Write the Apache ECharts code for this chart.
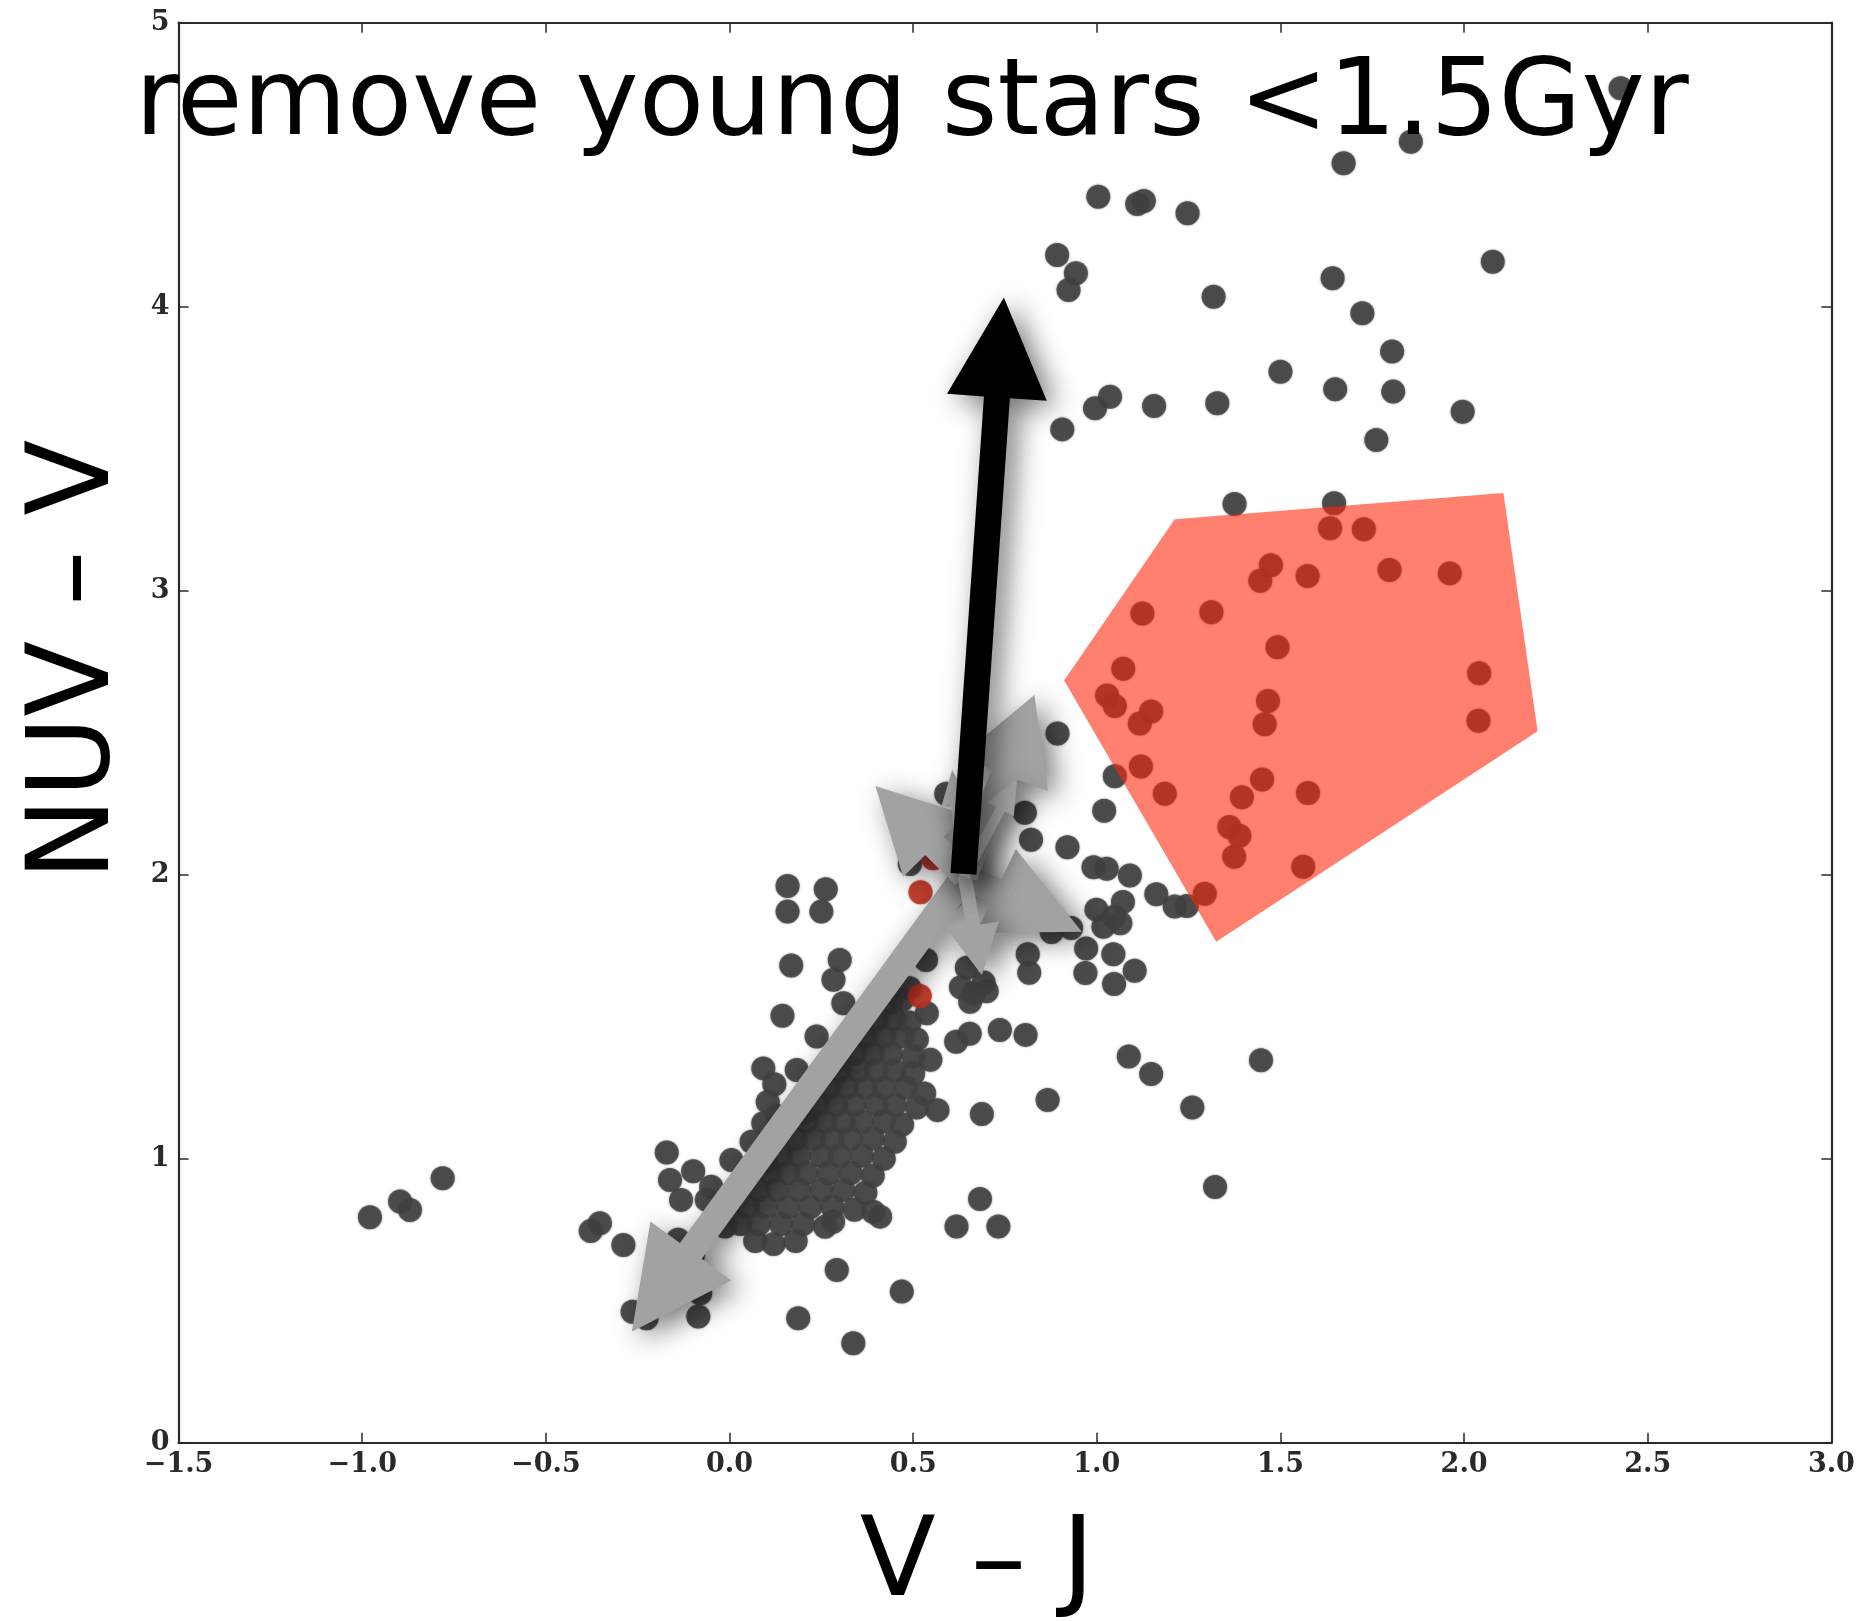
<!DOCTYPE html>
<html>
<head>
<meta charset="utf-8">
<script src="https://cdn.jsdelivr.net/npm/echarts@6/dist/echarts.min.js"></script>
<style>
  html, body { margin: 0; padding: 0; background: #ffffff; }
  #chart { width: 1867px; height: 1621px; }
</style>
</head>
<body>
<div id="chart"></div>
<script>
// Colour-colour diagram: NUV - V against V - J

const xTickLabels = ['\u22121.5', '\u22121.0', '\u22120.5', '0.0', '0.5', '1.0', '1.5', '2.0', '2.5', '3.0'];
const yTickLabels = ['0', '1', '2', '3', '4', '5'];

// galaxies, [V-J, NUV-V]
const galaxiesTop = [
  [2.426, 4.769], [1.855, 4.581], [1.672, 4.505], [1.004, 4.387], [1.110, 4.362], [1.128, 4.372],
  [1.247, 4.329], [0.892, 4.182], [0.943, 4.118], [0.923, 4.059], [2.078, 4.158], [1.642, 4.100],
  [1.318, 4.035], [1.723, 3.977], [1.804, 3.842], [1.500, 3.771], [0.906, 3.568], [0.995, 3.642],
  [1.036, 3.683], [1.156, 3.650], [1.328, 3.660], [1.649, 3.709], [1.807, 3.701], [1.996, 3.630],
  [1.761, 3.531], [1.375, 3.305], [1.646, 3.308]
];

const galaxiesRed = [
  [1.635, 3.220], [1.727, 3.216], [1.474, 3.090], [1.445, 3.035], [1.574, 3.052], [1.797, 3.073],
  [1.961, 3.061], [1.124, 2.920], [1.312, 2.924], [1.492, 2.801], [1.072, 2.725], [2.041, 2.709],
  [1.028, 2.631], [1.049, 2.594], [1.148, 2.575], [1.117, 2.532], [1.466, 2.612], [1.457, 2.530],
  [2.039, 2.542], [1.120, 2.381], [1.049, 2.347], [1.185, 2.285], [1.450, 2.335], [1.395, 2.273],
  [1.575, 2.288], [1.361, 2.168], [1.388, 2.137], [1.374, 2.063], [1.562, 2.028], [1.294, 1.933]
];

const galaxiesMid = [
  [1.245, 1.890], [1.212, 1.888], [0.893, 2.497], [0.804, 2.218], [1.020, 2.225], [0.821, 2.123],
  [0.920, 2.097], [0.991, 2.026], [1.027, 2.021], [1.090, 1.997], [1.162, 1.931], [0.999, 1.877],
  [1.071, 1.904], [1.047, 1.852], [1.018, 1.817], [1.064, 1.829], [0.877, 1.798], [0.930, 1.812],
  [0.812, 1.720], [0.816, 1.655], [0.971, 1.740], [0.969, 1.654], [1.045, 1.720], [1.103, 1.662],
  [1.047, 1.615], [0.590, 2.285], [0.491, 2.038], [0.601, 1.917], [0.158, 1.960], [0.158, 1.870],
  [0.262, 1.949], [0.250, 1.870], [0.168, 1.680], [0.300, 1.700], [0.283, 1.630], [0.310, 1.547],
  [0.144, 1.503], [0.237, 1.430], [0.535, 1.700], [0.537, 1.512], [0.646, 1.672], [0.630, 1.604],
  [0.665, 1.582], [0.700, 1.590], [0.655, 1.553], [0.692, 1.620], [0.736, 1.453], [0.806, 1.436],
  [0.617, 1.412], [0.654, 1.440], [0.547, 1.348], [0.687, 1.157], [0.566, 1.171], [0.866, 1.207],
  [1.087, 1.360], [1.148, 1.298], [1.260, 1.180], [1.447, 1.347], [1.322, 0.900], [0.682, 0.858],
  [0.618, 0.761], [0.732, 0.761], [0.391, 0.813], [0.410, 0.796]
];

const galaxiesLow = [
  [0.092, 1.318], [0.122, 1.262], [0.104, 1.200], [0.092, 1.125], [0.183, 1.312], [0.005, 0.995],
  [-0.050, 0.901], [-0.062, 0.855], [0.001, 0.855], [-0.012, 0.761], [-0.140, 0.715], [-0.353, 0.773],
  [-0.378, 0.745], [-0.289, 0.696], [-0.264, 0.461], [-0.226, 0.438], [-0.085, 0.444], [-0.080, 0.526],
  [-0.171, 1.022], [-0.162, 0.925], [-0.099, 0.956], [-0.132, 0.855], [-0.979, 0.794], [-0.897, 0.849],
  [-0.870, 0.819], [-0.781, 0.931], [0.292, 0.608], [0.187, 0.438], [0.337, 0.350], [0.469, 0.532],
  [0.282, 0.778], [0.130, 1.150], [0.060, 1.060], [0.040, 0.930]
];

const galaxiesCore = [
  [0.44, 1.55], [0.47, 1.56], [0.49, 1.60], [0.40, 1.49], [0.45, 1.49], [0.49, 1.48],
  [0.37, 1.43], [0.42, 1.43], [0.47, 1.43], [0.51, 1.42], [0.34, 1.37], [0.39, 1.37],
  [0.44, 1.37], [0.50, 1.36], [0.30, 1.31], [0.35, 1.31], [0.40, 1.31], [0.45, 1.31],
  [0.50, 1.30], [0.27, 1.25], [0.32, 1.25], [0.37, 1.25], [0.42, 1.25], [0.48, 1.25],
  [0.53, 1.23], [0.24, 1.19], [0.29, 1.19], [0.34, 1.19], [0.40, 1.19], [0.45, 1.19],
  [0.51, 1.18], [0.21, 1.13], [0.26, 1.13], [0.31, 1.13], [0.36, 1.13], [0.42, 1.13],
  [0.47, 1.12], [0.18, 1.07], [0.23, 1.07], [0.28, 1.07], [0.33, 1.07], [0.39, 1.07],
  [0.45, 1.06], [0.14, 1.01], [0.19, 1.01], [0.25, 1.01], [0.30, 1.01], [0.36, 1.01],
  [0.42, 1.00], [0.11, 0.95], [0.16, 0.95], [0.21, 0.95], [0.27, 0.95], [0.33, 0.95],
  [0.39, 0.94], [0.08, 0.89], [0.13, 0.89], [0.19, 0.89], [0.25, 0.89], [0.31, 0.89],
  [0.37, 0.88], [0.05, 0.83], [0.10, 0.83], [0.16, 0.83], [0.22, 0.83], [0.28, 0.83],
  [0.34, 0.82], [0.03, 0.77], [0.08, 0.77], [0.14, 0.77], [0.20, 0.77], [0.26, 0.76],
  [0.07, 0.71], [0.12, 0.70], [0.18, 0.71], [0.00, 0.84], [0.10, 0.99], [0.20, 1.16],
  [0.30, 1.35], [0.40, 1.55], [0.50, 1.74], [-0.10, 0.66]
];

// young-star dominated galaxies
const youngGalaxies = [[0.554, 2.058], [0.520, 1.938], [0.518, 1.573]];

// selection region vertices, [V-J, NUV-V]
const regionVJ = [0.911, 1.212, 2.107, 2.200, 1.325];
const regionNUVV = [2.684, 3.252, 3.344, 2.505, 1.764];

// vectors: [V-J start, NUV-V start, V-J end, NUV-V end]
const ageVector = [[0.637, 2.003, 0.747, 4.032]];
const otherVectors = [
  [0.640, 1.995, -0.266, 0.391],
  [0.640, 1.995, 0.397, 2.312],
  [0.640, 1.995, 0.959, 1.799],
  [0.640, 1.995, 0.830, 2.633],
  [0.640, 1.995, 0.687, 1.647],
  [0.640, 1.995, 0.606, 2.369],
  [0.640, 1.995, 0.783, 2.339]
];

// arrow drawing sizes in pixels (shaft width, head length, head width)
const ageArrowSize = [{ shaft: 26, headLen: 100, headWidth: 100 }];
const otherArrowSizes = [
  { shaft: 27, headLen: 100, headWidth: 100 },
  { shaft: 26, headLen: 84, headWidth: 88 },
  { shaft: 26, headLen: 95, headWidth: 93 },
  { shaft: 26, headLen: 85, headWidth: 95 },
  { shaft: 14, headLen: 50, headWidth: 52 },
  { shaft: 10, headLen: 35, headWidth: 30 },
  { shaft: 10, headLen: 35, headWidth: 30 }
];

function arrowPoints(p0, p1, s) {
  const dx = p1[0] - p0[0], dy = p1[1] - p0[1];
  const len = Math.hypot(dx, dy) || 1;
  const ux = dx / len, uy = dy / len;
  const nx = -uy, ny = ux;
  const hl = Math.min(s.headLen, len);
  const bx = p1[0] - ux * hl, by = p1[1] - uy * hl;
  const hs = s.shaft / 2, hw = s.headWidth / 2;
  return [
    [p0[0] + nx * hs, p0[1] + ny * hs],
    [bx + nx * hs, by + ny * hs],
    [bx + nx * hw, by + ny * hw],
    [p1[0], p1[1]],
    [bx - nx * hw, by - ny * hw],
    [bx - nx * hs, by - ny * hs],
    [p0[0] - nx * hs, p0[1] - ny * hs]
  ];
}

function arrowSeries(data, sizes, fill, z) {
  return {
    type: 'custom',
    xAxisIndex: 0,
    yAxisIndex: 0,
    z: z,
    silent: true,
    data: data,
    renderItem: function (params, api) {
      const p0 = api.coord([api.value(0), api.value(1)]);
      const p1 = api.coord([api.value(2), api.value(3)]);
      return {
        type: 'polygon',
        shape: { points: arrowPoints(p0, p1, sizes[params.dataIndex]) },
        style: {
          fill: fill,
          shadowBlur: 28,
          shadowColor: 'rgba(0,0,0,0.55)',
          shadowOffsetX: 9,
          shadowOffsetY: 7
        }
      };
    }
  };
}

const allGalaxies = [].concat(galaxiesTop, galaxiesRed, galaxiesMid, galaxiesLow, galaxiesCore);

const axisLineStyle = { color: '#2a2a2a', width: 2.2 };
const tickStyle = { show: true, inside: true, length: 10, lineStyle: { color: '#2a2a2a', width: 1.5 } };
const tickFont = { fontFamily: 'DejaVu Serif', fontSize: 27, fontWeight: 'bold', color: '#2a2a2a' };

const chart = echarts.init(document.getElementById('chart'), null, { renderer: 'canvas' });

chart.setOption({
  animation: false,
  backgroundColor: '#ffffff',
  grid: { left: 178.6, right: 35.6, top: 22.7, bottom: 178.3, containLabel: false, outerBoundsMode: 'none' },
  xAxis: [
    {
      type: 'value', position: 'bottom', min: -1.5, max: 3.0, interval: 0.5,
      axisLine: { show: true, onZero: false, lineStyle: axisLineStyle },
      axisTick: tickStyle,
      splitLine: { show: false },
      axisLabel: Object.assign({ margin: 9, formatter: (v, i) => xTickLabels[i] }, tickFont)
    },
    {
      type: 'value', position: 'top', min: -1.5, max: 3.0, interval: 0.5,
      axisLine: { show: true, onZero: false, lineStyle: axisLineStyle },
      axisTick: tickStyle,
      splitLine: { show: false },
      axisLabel: { show: false }
    }
  ],
  yAxis: [
    {
      type: 'value', position: 'left', min: 0, max: 5, interval: 1,
      axisLine: { show: true, onZero: false, lineStyle: axisLineStyle },
      axisTick: tickStyle,
      splitLine: { show: false },
      axisLabel: Object.assign({ margin: 9, formatter: (v, i) => yTickLabels[i] }, tickFont)
    },
    {
      type: 'value', position: 'right', min: 0, max: 5, interval: 1,
      axisLine: { show: true, onZero: false, lineStyle: axisLineStyle },
      axisTick: tickStyle,
      splitLine: { show: false },
      axisLabel: { show: false }
    }
  ],
  series: [
    {
      type: 'scatter', xAxisIndex: 0, yAxisIndex: 0, z: 2, silent: true,
      symbol: 'circle', symbolSize: 24,
      itemStyle: { color: '#404040', shadowBlur: 2, shadowColor: 'rgba(64,64,64,0.9)' },
      data: allGalaxies
    },
    {
      type: 'scatter', xAxisIndex: 0, yAxisIndex: 0, z: 3, silent: true,
      symbol: 'circle', symbolSize: 24,
      itemStyle: { color: '#bd3423', shadowBlur: 2, shadowColor: 'rgba(189,52,35,0.9)' },
      data: youngGalaxies
    },
    {
      type: 'custom', xAxisIndex: 0, yAxisIndex: 0, z: 4, silent: true,
      data: regionVJ.map((v, i) => [v, regionNUVV[i]]),
      renderItem: function (params, api) {
        if (params.dataIndex !== 0) return null;
        const pts = regionVJ.map((v, i) => api.coord([v, regionNUVV[i]]));
        return {
          type: 'polygon',
          shape: { points: pts },
          style: { fill: 'rgba(255,36,5,0.58)' }
        };
      }
    },
    arrowSeries(otherVectors, otherArrowSizes, '#a2a2a2', 5),
    arrowSeries(ageVector, ageArrowSize, '#000000', 6)
  ],
  graphic: [
    {
      type: 'text', x: 135, y: 106, z: 100, silent: true,
      style: {
        text: 'remove young stars <1.5Gyr',
        font: '107px "DejaVu Sans"',
        fill: '#000000',
        align: 'left', verticalAlign: 'middle',
        textAlign: 'left', textVerticalAlign: 'middle'
      }
    },
    {
      type: 'text', x: 977, y: 1566, z: 100, silent: true,
      style: {
        text: 'V \u2013 J',
        font: '111px "DejaVu Sans"',
        fill: '#000000',
        align: 'center', verticalAlign: 'middle',
        textAlign: 'center', textVerticalAlign: 'middle'
      }
    },
    {
      type: 'text', x: 78, y: 660, z: 100, silent: true,
      rotation: Math.PI / 2, scaleX: 0.97,
      style: {
        text: 'NUV \u2013 V',
        font: '114px "DejaVu Sans"',
        fill: '#000000',
        align: 'center', verticalAlign: 'middle',
        textAlign: 'center', textVerticalAlign: 'middle'
      }
    }
  ]
});
</script>
</body>
</html>
